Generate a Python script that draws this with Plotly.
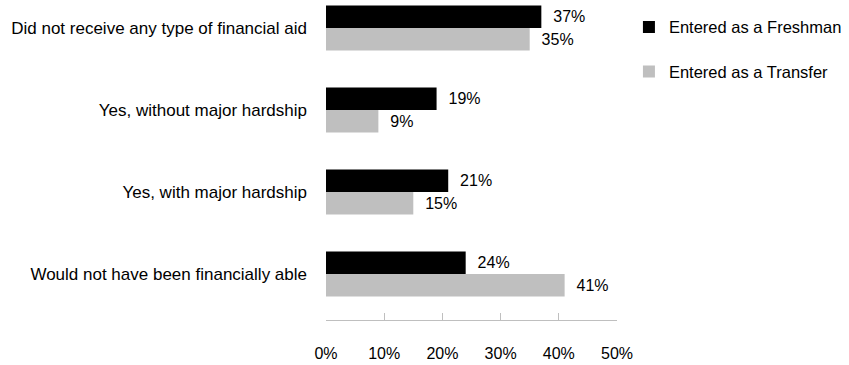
import plotly.graph_objects as go

categories = [
    "Did not receive any type of financial aid",
    "Yes, without major hardship",
    "Yes, with major hardship",
    "Would not have been financially able",
]
freshman = [0.37, 0.19, 0.21, 0.24]
transfer = [0.35, 0.09, 0.15, 0.41]
series_names = ["Entered as a Freshman", "Entered as a Transfer"]
tick_vals = [0, 0.1, 0.2, 0.3, 0.4, 0.5]
tick_text = ["0%", "10%", "20%", "30%", "40%", "50%"]

FONT = "Liberation Sans, Arial, sans-serif"
pad = "\u00a0\u00a0"

fig = go.Figure()
fig.add_trace(go.Bar(
    y=categories, x=freshman, orientation="h", name=series_names[0],
    marker=dict(color="#000000", line=dict(width=0)),
    text=[pad + f"{round(v*100)}%" for v in freshman],
    textposition="outside", constraintext="none", cliponaxis=False,
    textfont=dict(family=FONT, size=16, color="#000000"),
    legendgroup="a",
))
fig.add_trace(go.Bar(
    y=categories, x=transfer, orientation="h", name=series_names[1],
    marker=dict(color="#BFBFBF", line=dict(width=0)),
    text=[pad + f"{round(v*100)}%" for v in transfer],
    textposition="outside", constraintext="none", cliponaxis=False,
    textfont=dict(family=FONT, size=16, color="#000000"),
    legendgroup="b",
))

fig.update_layout(
    width=849, height=365,
    margin=dict(l=326, r=232, t=5, b=45, autoexpand=False),
    paper_bgcolor="white", plot_bgcolor="white",
    barmode="group", bargap=0.45, bargroupgap=0,
    font=dict(family=FONT, size=17, color="#000000"),
    showlegend=True,
    legend=dict(
        x=1.041, y=0.985, xanchor="left", yanchor="top",
        traceorder="grouped", tracegroupgap=20,
        font=dict(family=FONT, size=16.5, color="#000000"),
        bgcolor="rgba(0,0,0,0)",
    ),
    xaxis=dict(
        range=[0, 0.5], tickvals=tick_vals, ticktext=tick_text,
        showgrid=False, zeroline=False,
        showline=True, linecolor="#BFBFBF", linewidth=1,
        ticks="inside", ticklen=7, tickcolor="#BFBFBF", tickwidth=1,
        ticklabelstandoff=19, automargin=False,
        tickfont=dict(family=FONT, size=16, color="#000000"),
        fixedrange=True,
    ),
    yaxis=dict(
        categoryorder="array", categoryarray=categories,
        range=[3.56, -0.28],
        showgrid=False, zeroline=False, showline=False, ticks="",
        ticklabelstandoff=18, automargin=False,
        tickfont=dict(family=FONT, size=17, color="#000000"),
        fixedrange=True,
    ),
)

fig.write_html(
    "out.html",
    config={"displayModeBar": False},
    post_script="document.body.style.margin='0';document.body.style.padding='0';",
)
